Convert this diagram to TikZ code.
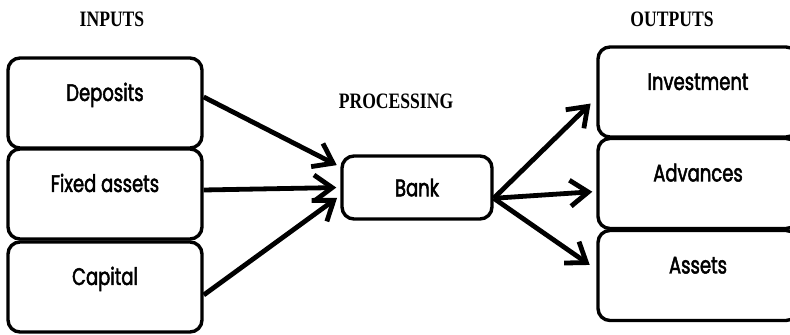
\documentclass[tikz,border=0pt]{standalone}
\usepackage{fontspec}
\usetikzlibrary{arrows.meta}
\newfontfamily\boxfont[FakeStretch=0.75,FakeBold=2]{Poppins}
\newfontfamily\headfont[FakeStretch=0.8]{Liberation Serif}
\begin{document}
\begin{tikzpicture}[x=0.5pt, y=-0.5pt,
    itembox/.style={draw, line width=1.7pt, rounded corners=6pt, minimum width=97pt,
        minimum height=45pt, text height=9pt, text depth=11pt, inner sep=0pt,
        font=\boxfont\fontsize{12}{14}\selectfont},
    outbox/.style={itembox, minimum width=100pt},
    bankbox/.style={draw, line width=1.7pt, rounded corners=6pt, minimum width=75pt,
        minimum height=31.5pt, inner sep=0pt, font=\boxfont\fontsize{12}{14}\selectfont},
    heading/.style={font=\headfont\bfseries\fontsize{11}{13}\selectfont},
    flow/.style={line width=2.4pt, -{Straight Barb[length=9pt, width=13pt, line width=2.4pt]}}]
    \useasboundingbox (0,0) rectangle (790,335);

    % the headings
    \node[heading] (inputs) at (112,19) {INPUTS};
    \node[heading] (processing) at (396,101) {PROCESSING};
    \node[heading] (outputs) at (672,19) {OUTPUTS};

    % the input side
    \node[itembox] (deposits) at (105,103) {Deposits};
    \node[itembox] (fixed) at (105,194) {Fixed assets};
    \node[itembox] (capital) at (105,287) {Capital};

    % the bank in the middle
    \node[bankbox] (bank) at (417,187.5) {Bank};

    % the output side
    \node[outbox] (invest) at (698,92) {Investment};
    \node[outbox] (advances) at (698,183.5) {Advances};
    \node[outbox] (assets) at (698,275.5) {Assets};

    % draw the arrows
    \draw[flow, shorten >=2pt] ([yshift=3pt]deposits.east) -- (bank.165);
    \draw[flow, shorten >=2pt] ([yshift=2pt]fixed.east) -- (bank.west);
    \draw[flow, shorten >=2pt] ([yshift=-4pt]capital.east) -- (bank.186);
    %
    \draw[flow, shorten >=4pt] (bank.352) -- ([yshift=-3pt]invest.west);
    \draw[flow, shorten >=2pt] (bank.352) -- ([yshift=-4pt]advances.west);
    \draw[flow, shorten >=4pt] (bank.352) -- ([yshift=3pt]assets.west);
\end{tikzpicture}
\end{document}
